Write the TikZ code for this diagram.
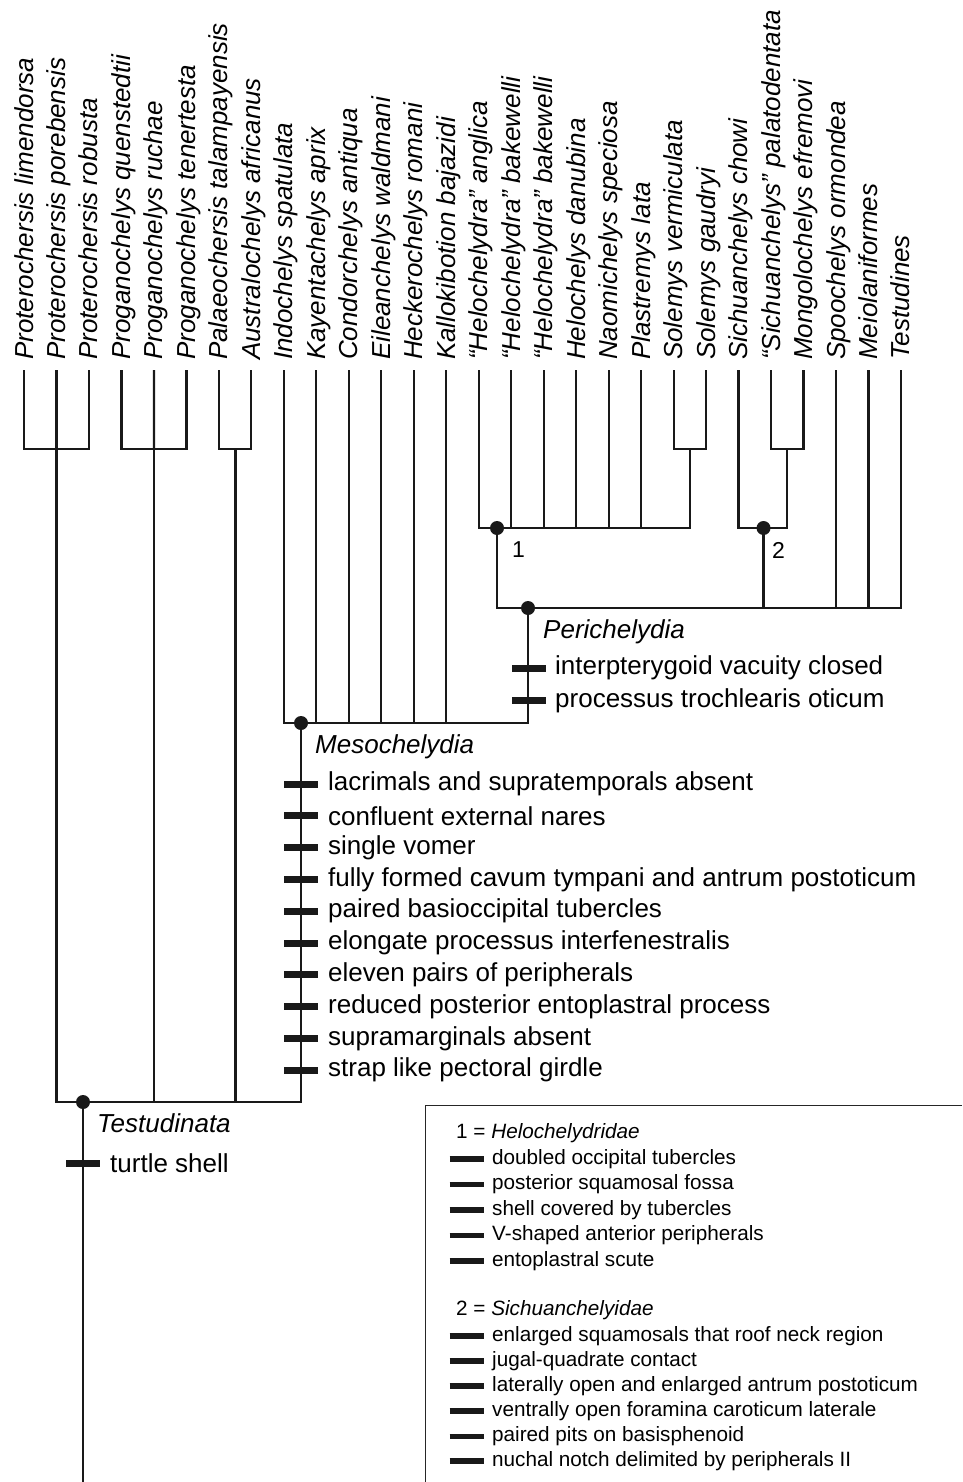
\documentclass[tikz,border=0pt]{standalone}
\usepackage{fontspec}
\setmainfont{Liberation Sans}
\usetikzlibrary{calc}
\begin{document}
\begin{tikzpicture}[x=1pt,y=-1pt,
  treeline/.style={line width=2.2pt, line join=miter, line cap=butt, draw=black!90},
  nodedot/.style={fill=black!90},
  synbar/.style={line width=7pt, draw=black!90},
  legbar/.style={line width=5.5pt, draw=black!90},
  tiplab/.style={rotate=90, anchor=base west, inner sep=0pt, font=\fontsize{26}{30}\selectfont\itshape},
  synlab/.style={anchor=west, inner sep=0pt, font=\fontsize{26}{30}\selectfont},
  cladelab/.style={anchor=west, inner sep=0pt, font=\fontsize{26}{30}\selectfont\itshape},
  numlab/.style={anchor=west, inner sep=0pt, font=\fontsize{23}{28}\selectfont},
  leglab/.style={anchor=west, inner sep=0pt, font=\fontsize{20.7}{25}\selectfont},
]
\useasboundingbox (0,0) rectangle (962,1482);

% tips
\foreach \i/\nm in {0/{Proterochersis limendorsa},1/{Proterochersis porebensis},2/{Proterochersis robusta},
  3/{Proganochelys quenstedtii},4/{Proganochelys ruchae},5/{Proganochelys tenertesta},
  6/{Palaeochersis talampayensis},7/{Australochelys africanus},8/{Indochelys spatulata},
  9/{Kayentachelys aprix},10/{Condorchelys antiqua},11/{Eileanchelys waldmani},
  12/{Heckerochelys romani},13/{Kallokibotion bajazidi},14/{“Helochelydra” anglica},
  15/{“Helochelydra” bakewelli},16/{“Helochelydra” bakewelli},17/{Helochelys danubina},
  18/{Naomichelys speciosa},19/{Plastremys lata},20/{Solemys vermiculata},
  21/{Solemys gaudryi},22/{Sichuanchelys chowi},23/{“Sichuanchelys” palatodentata},
  24/{Mongolochelys efremovi},25/{Spoochelys ormondea},26/{Meiolaniformes},27/{Testudines}}{
  \coordinate (t\i) at ({24+32.48*\i},370);
  \node[tiplab] (lab\i) at ({24+32.48*\i+9},360) {\nm};
}

% internal nodes
\coordinate (cA) at (56.48,449);
\coordinate (cB) at (153.92,449);
\coordinate (cC) at (235.5,449);
\coordinate (sA) at (689.84,449);
\coordinate (sB) at (787.28,449);
\coordinate (n1) at (497,528);
\coordinate (n2) at (763.5,528);
\coordinate (nP) at (528,608);
\coordinate (nM) at (301,723);
\coordinate (nT) at (83,1102);
\coordinate (root) at (83,1482);

% cherries
\draw[treeline] (t0) |- (cA) -| (t2);
\draw[treeline] (t1) -- (cA);
\draw[treeline] (t3) |- (cB) -| (t5);
\draw[treeline] (t4) -- (cB);
\draw[treeline] (t6) |- (cC) -| (t7);
\draw[treeline] (t20) |- (sA) -| (t21);
\draw[treeline] (t23) |- (sB) -| (t24);

% clade 1 and 2
\draw[treeline] (t14) |- (n1) -| (sA);
\foreach \i in {15,...,19} \draw[treeline] (t\i) -- (t\i |- n1);
\draw[treeline] (t22) |- (n2) -| (sB);

% Perichelydia
\draw[treeline] (n1) |- (nP) -| (t27);
\draw[treeline] (n2) -- (n2 |- nP);
\foreach \i in {25,26} \draw[treeline] (t\i) -- (t\i |- nP);

% Mesochelydia
\draw[treeline] (t8) |- (nM) -| (nP);
\foreach \i in {9,...,13} \draw[treeline] (t\i) -- (t\i |- nM);

% Testudinata
\draw[treeline] (cA) |- (nT) -| (nM);
\draw[treeline] (cB) -- (cB |- nT);
\draw[treeline] (cC) -- (cC |- nT);
\draw[treeline] (nT) -- (root);

% dots
\foreach \n in {n1,n2,nP,nM,nT} \fill[nodedot] (\n) circle[radius=7pt];

% numbers
\node[numlab] (num1) at (512,550) {1};
\node[numlab] (num2) at (772,550) {2};

% Perichelydia
\node[cladelab] (lP) at (543,632) {Perichelydia};
\foreach \y/\t [count=\k] in {668/{interpterygoid vacuity closed},700.5/{processus trochlearis oticum}}{
  \draw[synbar] (512,\y) -- (546,\y);
  \node[synlab] (sP\k) at (555,\y) {\t};
}

% Mesochelydia
\node[cladelab] (lM) at (315,747) {Mesochelydia};
\foreach \y/\t [count=\k] in {784/{lacrimals and supratemporals absent},815.8/{confluent external nares},
  847.6/{single vomer},879.4/{fully formed cavum tympani and antrum postoticum},
  911.2/{paired basioccipital tubercles},943/{elongate processus interfenestralis},
  974.8/{eleven pairs of peripherals},1006.6/{reduced posterior entoplastral process},
  1038.4/{supramarginals absent},1070.2/{strap like pectoral girdle}}{
  \draw[synbar] (284,\y) -- (318,\y);
  \node[synlab] (sM\k) at (328,\y) {\t};
}

% Testudinata
\node[cladelab] (lT) at (97,1123) {Testudinata};
\draw[synbar] (66,1163) -- (100,1163);
\node[synlab] (sT1) at (110,1163) {turtle shell};

% legend
\draw[line width=1.2pt, draw=black!85] (962,1105.5) -- (425.5,1105.5) -- (425.5,1482);
\node[leglab] (legh1) at (456,1133) {1 = \textit{Helochelydridae}};
\foreach \y/\t [count=\k] in {1159/{doubled occipital tubercles},1184.5/{posterior squamosal fossa},
  1210/{shell covered by tubercles},1235.5/{V-shaped anterior peripherals},1261/{entoplastral scute}}{
  \draw[legbar] (449.5,\y) -- (484,\y);
  \node[leglab] (lA\k) at (492,\y) {\t};
}
\node[leglab] (legh2) at (456,1310) {2 = \textit{Sichuanchelyidae}};
\foreach \y/\t [count=\k] in {1336/{enlarged squamosals that roof neck region},1361/{jugal-quadrate contact},
  1386/{laterally open and enlarged antrum postoticum},1411/{ventrally open foramina caroticum laterale},
  1436.5/{paired pits on basisphenoid},1461/{nuchal notch delimited by peripherals II}}{
  \draw[legbar] (449.5,\y) -- (484,\y);
  \node[leglab] (lB\k) at (492,\y) {\t};
}
\end{tikzpicture}
\end{document}
